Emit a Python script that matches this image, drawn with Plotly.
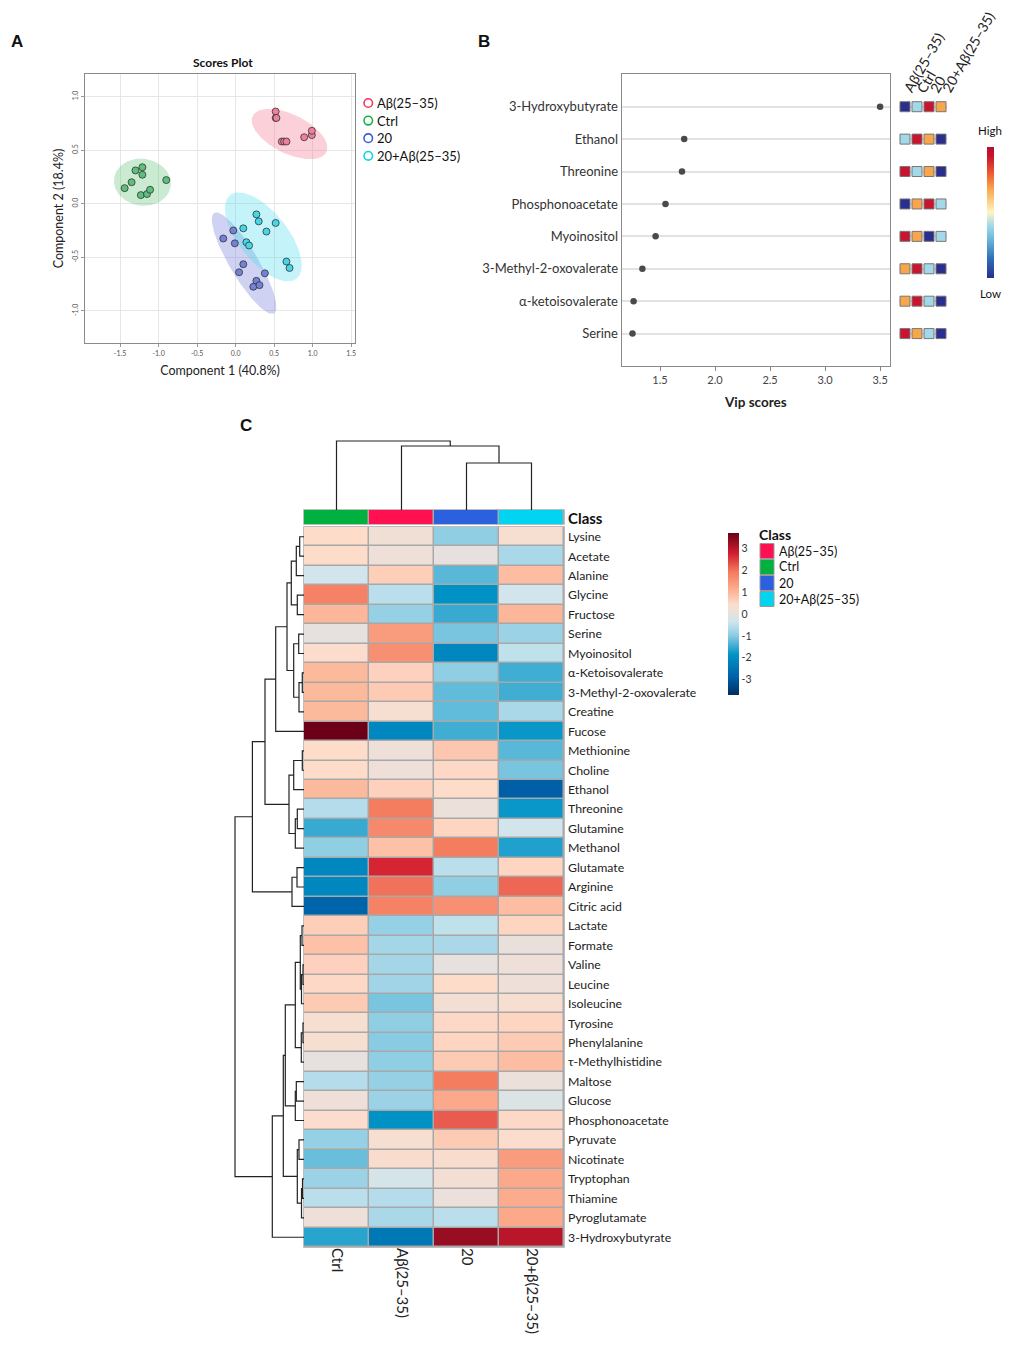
import numpy as np
import plotly.graph_objects as go

W, H = 1011, 1351
FONT = "Lato"

# ------ A: scores plot data ------ #
ab_x = [0.52, 0.52, 0.53, 0.60, 0.63, 0.66, 0.89, 0.99, 0.99]
ab_y = [0.86, 0.80, 0.80, 0.58, 0.58, 0.58, 0.62, 0.64, 0.68]
ctrl_x = [-1.44, -1.35, -1.30, -1.21, -1.21, -1.23, -1.15, -1.11, -0.90]
ctrl_y = [0.145, 0.20, 0.31, 0.34, 0.27, 0.08, 0.09, 0.13, 0.22]
g20_x = [-0.16, -0.03, -0.01, 0.10, 0.045, 0.27, 0.38, 0.23, 0.31]
g20_y = [-0.325, -0.25, -0.37, -0.565, -0.64, -0.72, -0.65, -0.775, -0.76]
g20ab_x = [0.27, 0.30, 0.10, 0.52, 0.40, 0.14, 0.175, 0.66, 0.70]
g20ab_y = [-0.10, -0.165, -0.23, -0.18, -0.26, -0.36, -0.39, -0.54, -0.60]

# confidence ellipses: centre x, centre y, semi-axis a, semi-axis b, angle (deg)
ab_ell = [0.70, 0.65, 0.51, 0.19, -17]
ctrl_ell = [-1.21, 0.20, 0.37, 0.22, -3]
g20_ell = [0.11, -0.555, 0.61, 0.165, -49]
g20ab_ell = [0.36, -0.31, 0.59, 0.27, -37]

groups = ["Aβ(25–35)", "Ctrl", "20", "20+Aβ(25–35)"]

# ------ B: VIP data ------ #
vip_names = ["3-Hydroxybutyrate", "Ethanol", "Threonine", "Phosphonoacetate",
             "Myoinositol", "3-Methyl-2-oxovalerate", "α-ketoisovalerate", "Serine"]
vip_scores = [3.50, 1.72, 1.70, 1.55, 1.46, 1.34, 1.26, 1.25]
# relative level per group (1 = low ... 4 = high), order: Aβ, Ctrl, 20, 20+Aβ
vip_levels = [
    [1, 2, 4, 3],
    [2, 4, 3, 1],
    [4, 2, 3, 1],
    [1, 3, 4, 2],
    [4, 3, 1, 2],
    [3, 4, 2, 1],
    [3, 4, 2, 1],
    [4, 3, 2, 1],
]

# ------ C: heatmap data ------ #
metabolites = ["Lysine", "Acetate", "Alanine", "Glycine", "Fructose", "Serine",
               "Myoinositol", "α-Ketoisovalerate", "3-Methyl-2-oxovalerate", "Creatine",
               "Fucose", "Methionine", "Choline", "Ethanol", "Threonine", "Glutamine",
               "Methanol", "Glutamate", "Arginine", "Citric acid", "Lactate", "Formate",
               "Valine", "Leucine", "Isoleucine", "Tyrosine", "Phenylalanine",
               "τ-Methylhistidine", "Maltose", "Glucose", "Phosphonoacetate", "Pyruvate",
               "Nicotinate", "Tryptophan", "Thiamine", "Pyroglutamate", "3-Hydroxybutyrate"]
hm_cols = ["Ctrl", "Aβ(25–35)", "20", "20+β(25–35)"]
ctrl_z = [0.45, 0.45, -0.3, 1.8, 1.0, 0.0, 0.4, 0.95, 0.95, 0.95, 3.7, 0.45, 0.45, 0.95,
          -0.6, -1.5, -0.95, -2.1, -2.1, -2.8, 0.65, 0.85, 0.6, 0.5, 0.7, 0.3, 0.3, 0.0,
          -0.6, 0.15, 0.4, -0.9, -1.2, -0.85, -0.55, 0.15, -1.6]
ab_z = [0.2, 0.15, 0.65, -0.55, -0.9, 1.4, 1.6, 0.6, 0.7, 0.3, -2.1, 0.15, 0.15, 0.6,
        1.9, 1.7, 0.85, 2.7, 2.0, 1.8, -0.9, -0.75, -0.75, -0.8, -1.1, -0.95, -1.0, -0.95,
        -0.9, -0.85, -1.9, 0.3, 0.35, -0.25, -0.6, -0.7, -2.4]
g20_z = [-0.95, 0.0, -1.3, -1.9, -1.5, -1.1, -2.1, -0.95, -1.25, -1.25, -1.45, 0.75, 0.5,
         0.45, 0.1, 0.55, 1.9, -0.55, -0.95, 1.6, -0.5, -0.7, 0.0, 0.45, 0.25, 0.5, 0.55,
         0.7, 1.9, 1.2, 2.2, 0.7, 0.35, 0.25, 0.1, -0.55, 3.3]
g20ab_z = [0.3, -0.7, 0.9, -0.3, 1.0, -0.85, -0.5, -1.45, -1.45, -0.7, -1.8, -1.3, -1.1,
           -2.9, -1.8, -0.3, -1.65, 0.55, 2.1, 0.9, 0.55, 0.05, 0.15, 0.15, 0.3, 0.55, 0.7,
           0.9, 0.1, -0.15, 0.5, 0.4, 1.4, 1.2, 1.15, 1.2, 3.0]

# row tree: (child a, child b, height); leaves are 0..36, merges numbered from 37
row_merges = [
    (0, 1, 4.3), (37, 2, 7.7), (3, 4, 6.7), (38, 39, 12.7), (5, 6, 5.3), (7, 8, 1.7),
    (42, 9, 5.0), (41, 43, 10.3), (40, 44, 17.0), (45, 10, 28.3), (11, 12, 1.7),
    (47, 13, 10.3), (14, 15, 6.7), (49, 16, 8.7), (48, 50, 15.0), (46, 51, 39.0),
    (17, 18, 7.0), (53, 19, 12.0), (52, 54, 51.6), (20, 21, 2.0), (22, 23, 1.0),
    (57, 24, 2.5), (56, 58, 3.7), (25, 26, 1.0), (60, 27, 2.7), (59, 61, 8.7),
    (28, 29, 7.7), (63, 30, 8.7), (62, 64, 18.7), (31, 32, 5.0), (33, 34, 1.5),
    (67, 35, 2.5), (66, 68, 6.7), (65, 69, 20.7), (70, 36, 31.7), (55, 71, 69.0),
]
col_merges = [(2, 3, 47.0), (1, 4, 64.0), (0, 5, 69.0)]


def px_x(a, b):
    return [a / W, b / W]


def px_y(top, bottom):
    return [1 - bottom / H, 1 - top / H]


def ellipse(p, n=120):
    cx, cy, a, b, ang = p
    t = np.linspace(0, 2 * np.pi, n)
    th = np.deg2rad(ang)
    x = cx + a * np.cos(t) * np.cos(th) - b * np.sin(t) * np.sin(th)
    y = cy + a * np.cos(t) * np.sin(th) + b * np.sin(t) * np.cos(th)
    return x, y


def dendro(n_leaves, merges):
    pos = [float(i) for i in range(n_leaves)]
    hts = [0.0] * n_leaves
    p_out, h_out = [], []
    for a, b, h in merges:
        p_out += [pos[a], pos[a], pos[b], pos[b], None]
        h_out += [hts[a], h, h, hts[b], None]
        pos.append((pos[a] + pos[b]) / 2)
        hts.append(h)
    return p_out, h_out


fig = go.Figure()
shapes, notes = [], []

# ------ A ------ #
a_sets = [
    (ab_x, ab_y, ab_ell, "rgba(245,120,145,0.35)", "#F0809A", "#F4365F"),
    (ctrl_x, ctrl_y, ctrl_ell, "rgba(90,190,115,0.32)", "#5DBF7C", "#17B34A"),
    (g20_x, g20_y, g20_ell, "rgba(105,115,215,0.32)", "#7482D6", "#3C5BD8"),
    (g20ab_x, g20ab_y, g20ab_ell, "rgba(70,220,240,0.32)", "#45D6E8", "#12D4EC"),
]
for gx, gy, ell, fill, mcol, lcol in a_sets:
    ex, ey = ellipse(ell)
    fig.add_trace(go.Scatter(x=ex, y=ey, fill="toself", fillcolor=fill, mode="lines",
                             line=dict(width=0), showlegend=False, hoverinfo="skip",
                             xaxis="x", yaxis="y"))
for gx, gy, ell, fill, mcol, lcol in a_sets:
    fig.add_trace(go.Scatter(x=gx, y=gy, mode="markers", showlegend=False,
                             marker=dict(size=7, color=mcol, line=dict(color="#333", width=0.8)),
                             xaxis="x", yaxis="y"))

# legend of A (open circles)
for k, (name, s) in enumerate(zip(groups, a_sets)):
    cy = 103 + k * 17.6
    shapes.append(dict(type="circle", xref="paper", yref="paper",
                       x0=364 / W, x1=372.5 / W, y0=1 - (cy + 4.3) / H, y1=1 - (cy - 4.3) / H,
                       line=dict(color=s[5], width=1.6), fillcolor="rgba(0,0,0,0)"))
    notes.append(dict(text=name, x=375, y=cy, size=13, xa="left"))

# ------ B ------ #
fig.add_trace(go.Scatter(x=vip_scores, y=list(range(len(vip_names))), mode="markers",
                         marker=dict(size=6.5, color="#4A4A4A"), showlegend=False,
                         xaxis="x2", yaxis="y2"))
lvl_val = {1: 0.0, 2: 0.40, 3: 0.68, 4: 0.93}
sq_x, sq_y, sq_c = [], [], []
for i, row in enumerate(vip_levels):
    for j, lv in enumerate(row):
        sq_x.append(j)
        sq_y.append(i)
        sq_c.append(lvl_val[lv])
vip_cs = [[0.0, "#2A2E8E"], [0.15, "#2F6FB6"], [0.30, "#6DB9DC"], [0.40, "#A3D8E9"],
          [0.50, "#FDF4C6"], [0.58, "#FCD38A"], [0.68, "#F8A64C"], [0.80, "#EE5B30"],
          [0.93, "#C8142E"], [1.0, "#B8102A"]]
fig.add_trace(go.Scatter(
    x=sq_x, y=sq_y, mode="markers", showlegend=False, xaxis="x3", yaxis="y2",
    marker=dict(symbol="square", size=10, color=sq_c, colorscale=vip_cs, cmin=0, cmax=1,
                line=dict(color="#777", width=1),
                colorbar=dict(x=987 / W, xanchor="left", y=1 - 212 / H, yanchor="middle",
                              len=131 / H, lenmode="fraction", thickness=7, ypad=0, xpad=0,
                              showticklabels=False, ticks="", outlinewidth=0)),
))
for j, (name, hx) in enumerate(zip(groups, [897, 910, 923, 935])):
    fig.add_annotation(text=name, xref="paper", yref="paper", x=hx / W, y=1 - 98 / H,
                       showarrow=False, textangle=-60, xanchor="left", yanchor="bottom",
                       font=dict(size=14, color="#222"))

# ------ C ------ #
z = np.column_stack([ctrl_z, ab_z, g20_z, g20ab_z])
heat_cs = [[0.0, "#002E5E"], [0.11, "#0060A8"], [0.25, "#0094C6"], [0.37, "#8FCDE3"],
           [0.45, "#CDE6EF"], [0.5, "#E6E1DE"], [0.56, "#FDDCCB"], [0.65, "#FCAF8F"],
           [0.76, "#F47A5E"], [0.87, "#D42030"], [1.0, "#6B0018"]]
fig.add_trace(go.Heatmap(
    z=z, x=list(range(4)), y=list(range(len(metabolites))), xaxis="x4", yaxis="y4",
    colorscale=heat_cs, zmin=-3.7, zmax=3.7, xgap=1.5, ygap=1.5, hoverinfo="skip",
    colorbar=dict(x=728 / W, xanchor="left", y=1 - 614 / H, yanchor="middle",
                  len=162 / H, lenmode="fraction", thickness=11, outlinewidth=0,
                  ypad=0, xpad=0, tickvals=[-3, -2, -1, 0, 1, 2, 3],
                  ticktext=["-3", "-2", "-1", "0", "1", "2", "3"], ticks="",
                  tickfont=dict(size=10.5, color="#333", family=FONT)),
))
class_colors = ["#00B140", "#FF1050", "#2B60DE", "#00D4F0"]
fig.add_trace(go.Heatmap(
    z=[[0, 1, 2, 3]], x=list(range(4)), y=[0], xaxis="x4", yaxis="y5",
    colorscale=[[0, class_colors[0]], [1 / 3, class_colors[1]], [2 / 3, class_colors[2]],
                [1, class_colors[3]]],
    zmin=0, zmax=3, xgap=1.5, showscale=False, hoverinfo="skip",
))

# class legend
legend_cols = [class_colors[1], class_colors[0], class_colors[2], class_colors[3]]
notes.append(dict(text="<b>Class</b>", x=757, y=534, size=14, xa="left"))
for k, (name, col) in enumerate(zip(groups, legend_cols)):
    cy = 551 + k * 16
    shapes.append(dict(type="rect", xref="paper", yref="paper",
                       x0=760 / W, x1=774 / W, y0=1 - (cy + 7.5) / H, y1=1 - (cy - 7.5) / H,
                       fillcolor=col, line=dict(color="#9A9A9A", width=1)))
    notes.append(dict(text=name, x=777, y=cy, size=12.5, xa="left"))

rp, rh = dendro(len(metabolites), row_merges)
fig.add_trace(go.Scatter(x=rh, y=rp, mode="lines", line=dict(color="#222", width=1.2),
                         showlegend=False, hoverinfo="skip", xaxis="x5", yaxis="y4"))
cp, ch = dendro(4, col_merges)
fig.add_trace(go.Scatter(x=cp, y=ch, mode="lines", line=dict(color="#222", width=1.2),
                         showlegend=False, hoverinfo="skip", xaxis="x4", yaxis="y6"))

shapes += [
    dict(type="rect", xref="x4 domain", yref="y4 domain", x0=0, x1=1, y0=0, y1=1,
         fillcolor="#A8A8A8", line=dict(color="#A8A8A8", width=1.5), layer="below"),
    dict(type="rect", xref="x4 domain", yref="y5 domain", x0=0, x1=1, y0=0, y1=1,
         fillcolor="#A8A8A8", line=dict(color="#A8A8A8", width=1.5), layer="below"),
]

# ------ layout ------ #
frame = dict(showline=True, mirror=True, linecolor="#8A8A8A", linewidth=1.2, zeroline=False)
fig.update_layout(
    width=W, height=H, margin=dict(l=0, r=0, t=0, b=0),
    paper_bgcolor="white", plot_bgcolor="white", showlegend=False,
    font=dict(family=FONT, color="#222"),
    xaxis=dict(domain=px_x(85, 355), range=[-1.955, 1.55], anchor="y",
               tickvals=[-1.5, -1, -0.5, 0, 0.5, 1, 1.5],
               ticktext=["-1.5", "-1.0", "-0.5", "0.0", "0.5", "1.0", "1.5"],
               tickfont=dict(size=7, color="#555"), ticks="outside", ticklen=3,
               tickcolor="#999", showgrid=True, gridcolor="#E6E6E6",
               title=dict(text="Component 1 (40.8%)", font=dict(size=12.5), standoff=10),
               **frame),
    yaxis=dict(domain=px_y(74, 343), range=[-1.30, 1.21], anchor="x",
               tickvals=[-1, -0.5, 0, 0.5, 1], ticktext=["-1.0", "-0.5", "0.0", "0.5", "1.0"],
               tickangle=-90, tickfont=dict(size=7, color="#555"), ticks="outside",
               ticklen=3, tickcolor="#999", showgrid=True, gridcolor="#E6E6E6",
               title=dict(text="Component 2 (18.4%)", font=dict(size=12.5), standoff=4),
               **frame),
    xaxis2=dict(domain=px_x(621.7, 890), range=[1.152, 3.59], anchor="y2",
                tickvals=[1.5, 2.0, 2.5, 3.0, 3.5],
                ticktext=["1.5", "2.0", "2.5", "3.0", "3.5"],
                tickfont=dict(size=11, color="#444"), ticks="outside", ticklen=4,
                tickcolor="#888", showgrid=False,
                title=dict(text="<b>Vip scores</b>", font=dict(size=13.5), standoff=12),
                **frame),
    yaxis2=dict(domain=px_y(74.3, 366), range=[8, -1], anchor="x2",
                tickvals=list(range(len(vip_names))), ticktext=vip_names,
                tickfont=dict(size=13, color="#333"), ticks="", showgrid=True,
                gridcolor="#E2E2E2", gridwidth=1.5, **frame),
    xaxis3=dict(domain=px_x(899, 947), range=[-0.5, 3.5], anchor="y2", visible=False),
    xaxis4=dict(domain=px_x(304, 564), range=[-0.5, 3.5], anchor="y4",
                tickvals=list(range(4)), ticktext=hm_cols, tickangle=90,
                tickfont=dict(size=15, color="#222"), ticks="", showgrid=False,
                zeroline=False, showline=False),
    yaxis4=dict(domain=px_y(527, 1247), range=[len(metabolites) - 0.5, -0.5], anchor="x4",
                side="right", tickvals=list(range(len(metabolites))), ticktext=metabolites,
                tickfont=dict(size=12.3, color="#222"), ticks="", showgrid=False,
                zeroline=False, showline=False, ticklabelstandoff=3),
    yaxis5=dict(domain=px_y(510, 524), range=[-0.5, 0.5], anchor="x4", visible=False),
    xaxis5=dict(domain=px_x(230, 304), range=[74, 0], anchor="y4", visible=False),
    yaxis6=dict(domain=px_y(438, 510), range=[0, 72], anchor="x4", visible=False),
    shapes=shapes,
)

notes += [
    dict(text="<b>A</b>", x=17, y=41, size=17, xa="center", fam="Liberation Sans"),
    dict(text="<b>B</b>", x=484, y=41, size=17, xa="center", fam="Liberation Sans"),
    dict(text="<b>C</b>", x=246, y=425, size=17, xa="center", fam="Liberation Sans"),
    dict(text="<b>Scores Plot</b>", x=223, y=63, size=12, xa="center"),
    dict(text="High", x=990, y=131, size=11.5, xa="center"),
    dict(text="Low", x=990, y=293, size=11.5, xa="center"),
    dict(text="<b>Class</b>", x=566, y=518, size=15, xa="left"),
]
for n in notes:
    fig.add_annotation(text=n["text"], xref="paper", yref="paper", x=n["x"] / W,
                       y=1 - n["y"] / H, showarrow=False, xanchor=n["xa"], yanchor="middle",
                       font=dict(size=n["size"], color="#111", family=n.get("fam", FONT)))

fig.write_html("out.html", config={"displayModeBar": False},
               post_script="document.body.style.margin='0px';")
